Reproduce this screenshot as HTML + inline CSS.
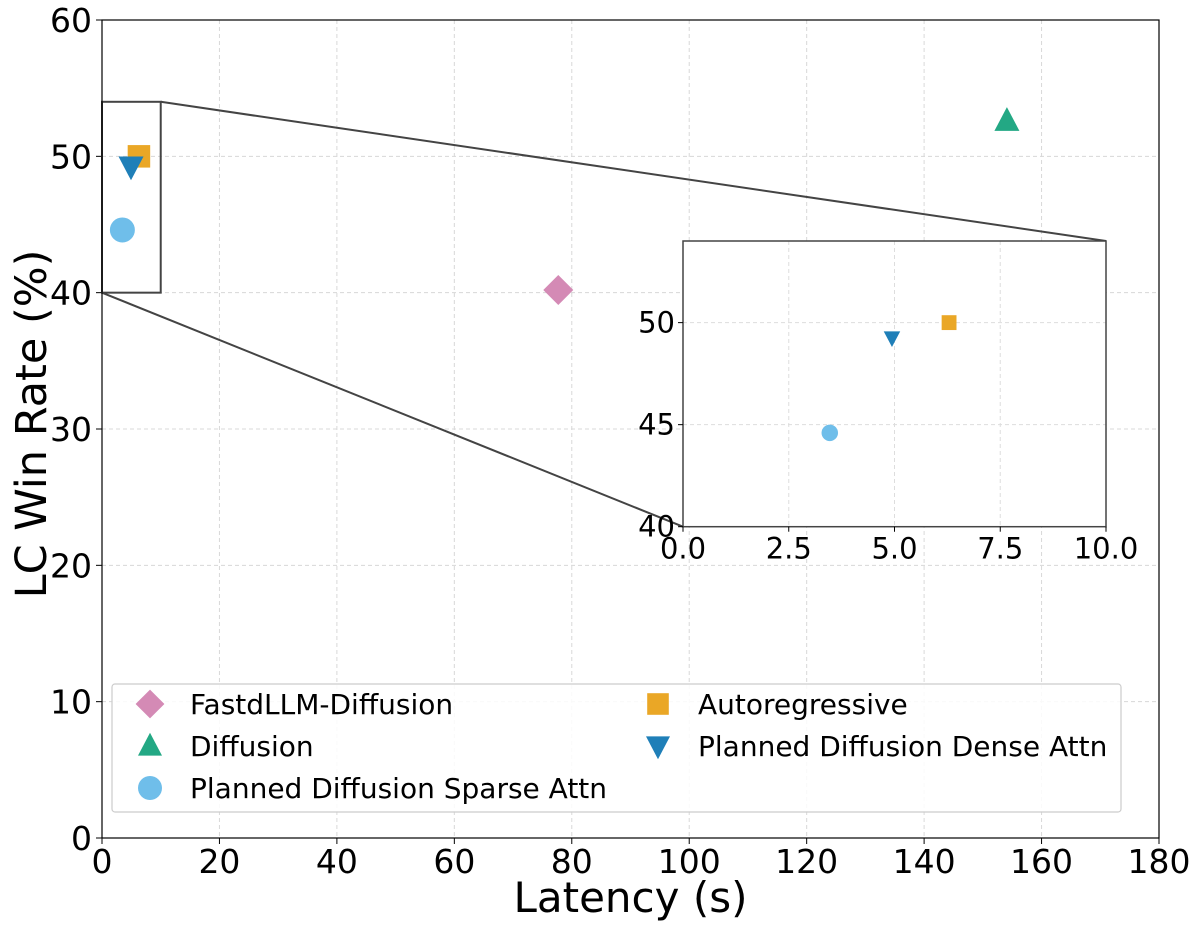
<!DOCTYPE html>
<html><head><meta charset="utf-8"><style>
body{margin:0;background:#fff}
svg text{font-family:"DejaVu Sans","Liberation Sans",sans-serif;fill:#000}
</style></head><body>
<svg id="chart" width="1199" height="930" xmlns="http://www.w3.org/2000/svg"></svg>
<script>
const seriesNames=["FastdLLM-Diffusion","Diffusion","Planned Diffusion Sparse Attn","Autoregressive","Planned Diffusion Dense Attn"];
const latency=[77.7,154.1,3.47,6.29,4.94];
const winRate=[40.2,52.6,44.6,50.0,49.25];
const xTicks=[0,20,40,60,80,100,120,140,160,180];
const yTicks=[0,10,20,30,40,50,60];
const insetXTicks=[0.0,2.5,5.0,7.5,10.0];
const insetYTicks=[40,45,50];
const colors=["#d48ab5","#23a884","#6fbeea","#eaa726","#1f7fb8"];
const shapes=["diamond","triangle","circle","square","tri-down"];
const NS="http://www.w3.org/2000/svg";
const svg=document.getElementById('chart');
function mk(t,a,p){const e=document.createElementNS(NS,t);for(const k in a)e.setAttribute(k,a[k]);(p||svg).appendChild(e);return e;}
const L=102,R=1159,T=20,B=838;
const X=v=>L+(v-0)/180*(R-L), Y=v=>B-(v/60)*(B-T);
const IL=683,IR=1106,IT=241,IB=526.7;
const IX=v=>IL+v/10*(IR-IL), IY=v=>IB-(v-40)/14*(IB-IT);
function marker(g,shape,cx,cy,s,c){
 let e;
 if(shape==="circle")e=mk('circle',{cx,cy,r:s*0.5,fill:c},g);
 else if(shape==="square")e=mk('rect',{x:cx-s*0.45,y:cy-s*0.45,width:s*0.9,height:s*0.9,fill:c},g);
 else if(shape==="diamond")e=mk('polygon',{points:`${cx},${cy-s*0.6} ${cx+s*0.6},${cy} ${cx},${cy+s*0.6} ${cx-s*0.6},${cy}`,fill:c},g);
 else if(shape==="triangle")e=mk('polygon',{points:`${cx},${cy-s*0.55} ${cx+s*0.5},${cy+s*0.4} ${cx-s*0.5},${cy+s*0.4}`,fill:c},g);
 else e=mk('polygon',{points:`${cx},${cy+s*0.55} ${cx+s*0.5},${cy-s*0.4} ${cx-s*0.5},${cy-s*0.4}`,fill:c},g);
 return e;
}
const grid=mk('g',{stroke:'#d8d8d8','stroke-width':1,'stroke-dasharray':'4,3'});

xTicks.forEach(v=>mk('line',{x1:X(v),x2:X(v),y1:T,y2:B},grid));
yTicks.forEach(v=>mk('line',{x1:L,x2:R,y1:Y(v),y2:Y(v)},grid));
const xt=mk('g',{});
xTicks.forEach(v=>{mk('line',{x1:X(v),x2:X(v),y1:B,y2:B+6,stroke:'#000'},xt);const t=mk('text',{x:X(v),y:B+35,'font-size':33,'text-anchor':'middle'},xt);t.textContent=v;});
const yt=mk('g',{});
yTicks.forEach(v=>{mk('line',{x1:L-6,x2:L,y1:Y(v),y2:Y(v),stroke:'#000'},yt);const t=mk('text',{x:L-10,y:Y(v)+12,'font-size':33,'text-anchor':'end'},yt);t.textContent=v;});
let t=mk('text',{x:(L+R)/2,y:912,'font-size':42,'text-anchor':'middle'});t.textContent='Latency (s)';

t=mk('text',{x:0,y:0,'font-size':43,'text-anchor':'middle',transform:`translate(46,${(T+B)/2-5}) rotate(-90)`});t.textContent='LC Win Rate (%)';

const z=mk('g',{stroke:'#444','stroke-width':2,fill:'none'});
mk('rect',{x:X(0),y:Y(54),width:X(10)-X(0),height:Y(40)-Y(54)},z);
mk('line',{x1:X(10),y1:Y(54),x2:IR,y2:IT},z);
mk('line',{x1:X(0),y1:Y(40),x2:IL,y2:IB},z);
const pts=mk('g',{});
latency.forEach((v,i)=>{const m=marker(pts,shapes[i],X(v),Y(winRate[i]),25,colors[i]);});
const ins=mk('g',{});
mk('rect',{x:IL,y:IT,width:IR-IL,height:IB-IT,fill:'#fff'},ins);
const ig=mk('g',{stroke:'#ddd','stroke-width':1,'stroke-dasharray':'4,3'},ins);
insetXTicks.forEach(v=>mk('line',{x1:IX(v),x2:IX(v),y1:IT,y2:IB},ig));
insetYTicks.forEach(v=>mk('line',{x1:IL,x2:IR,y1:IY(v),y2:IY(v)},ig));
latency.forEach((v,i)=>{if(v<=10){const m=marker(ins,shapes[i],IX(v),IY(winRate[i]),16.5,colors[i]);}});
mk('rect',{x:IL,y:IT,width:IR-IL,height:IB-IT,fill:'none',stroke:'#444','stroke-width':1.5},ins);
insetXTicks.forEach(v=>{mk('line',{x1:IX(v),x2:IX(v),y1:IB,y2:IB+5,stroke:'#000'},ins);const t=mk('text',{x:IX(v),y:IB+32,'font-size':29,'text-anchor':'middle'},ins);t.textContent=v.toFixed(1);});
insetYTicks.forEach(v=>{mk('line',{x1:IL-5,x2:IL,y1:IY(v),y2:IY(v),stroke:'#000'},ins);const t=mk('text',{x:IL-8,y:IY(v)+10,'font-size':29,'text-anchor':'end'},ins);t.textContent=v;});
mk('rect',{x:L,y:T,width:R-L,height:B-T,fill:'none',stroke:'#000','stroke-width':1.2});
const lg=mk('g',{});
mk('rect',{x:112,y:684,width:1009,height:128,fill:'#fff','fill-opacity':0.85,stroke:'#ccc','stroke-width':1.2,rx:3},lg);
const pos=[[150,704],[150,746],[150,788],[658,704],[658,746]];
seriesNames.forEach((n,i)=>{const e=mk('g',{},lg);
 marker(e,shapes[i],pos[i][0],pos[i][1],24,colors[i]);
 const t=mk('text',{x:pos[i][0]+40,y:pos[i][1]+10,'font-size':28},e);t.textContent=n;});
</script>
</body></html>
